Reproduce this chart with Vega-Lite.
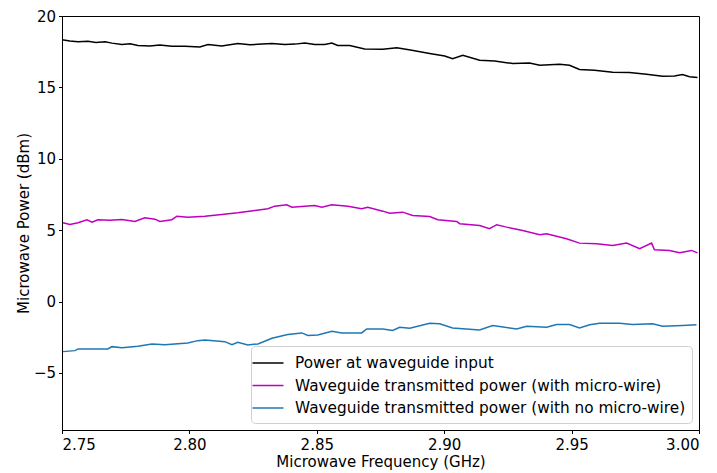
{
  "$schema": "https://vega.github.io/schema/vega-lite/v6.json",
  "autosize": "none",
  "width": 637,
  "height": 414,
  "padding": {"left": 62, "top": 16, "right": 18, "bottom": 43},
  "background": "white",
  "config": {
    "font": "DejaVu Sans",
    "view": {"stroke": "#000", "strokeWidth": 1},
    "axis": {"grid": false, "domainColor": "#000", "tickColor": "#000", "tickSize": 3.5, "labelFontSize": 15, "titleFontSize": 15, "titleFontWeight": "normal", "labelColor": "#000", "titleColor": "#000", "labelFont": "DejaVu Sans", "titleFont": "DejaVu Sans"}
  },
  "data": {"values": [
    {"f": 2.7500, "v": 18.33, "s": "Power at waveguide input"},
    {"f": 2.7531, "v": 18.25, "s": "Power at waveguide input"},
    {"f": 2.7563, "v": 18.20, "s": "Power at waveguide input"},
    {"f": 2.7602, "v": 18.23, "s": "Power at waveguide input"},
    {"f": 2.7633, "v": 18.15, "s": "Power at waveguide input"},
    {"f": 2.7669, "v": 18.20, "s": "Power at waveguide input"},
    {"f": 2.7696, "v": 18.10, "s": "Power at waveguide input"},
    {"f": 2.7735, "v": 18.00, "s": "Power at waveguide input"},
    {"f": 2.7767, "v": 18.05, "s": "Power at waveguide input"},
    {"f": 2.7798, "v": 17.93, "s": "Power at waveguide input"},
    {"f": 2.7845, "v": 17.90, "s": "Power at waveguide input"},
    {"f": 2.7884, "v": 17.96, "s": "Power at waveguide input"},
    {"f": 2.7931, "v": 17.88, "s": "Power at waveguide input"},
    {"f": 2.7982, "v": 17.88, "s": "Power at waveguide input"},
    {"f": 2.8041, "v": 17.83, "s": "Power at waveguide input"},
    {"f": 2.8073, "v": 18.00, "s": "Power at waveguide input"},
    {"f": 2.8127, "v": 17.90, "s": "Power at waveguide input"},
    {"f": 2.8190, "v": 18.07, "s": "Power at waveguide input"},
    {"f": 2.8237, "v": 17.98, "s": "Power at waveguide input"},
    {"f": 2.8284, "v": 18.03, "s": "Power at waveguide input"},
    {"f": 2.8324, "v": 18.07, "s": "Power at waveguide input"},
    {"f": 2.8375, "v": 18.00, "s": "Power at waveguide input"},
    {"f": 2.8414, "v": 18.03, "s": "Power at waveguide input"},
    {"f": 2.8453, "v": 18.11, "s": "Power at waveguide input"},
    {"f": 2.8492, "v": 18.00, "s": "Power at waveguide input"},
    {"f": 2.8531, "v": 18.00, "s": "Power at waveguide input"},
    {"f": 2.8559, "v": 18.10, "s": "Power at waveguide input"},
    {"f": 2.8582, "v": 17.93, "s": "Power at waveguide input"},
    {"f": 2.8629, "v": 17.93, "s": "Power at waveguide input"},
    {"f": 2.8688, "v": 17.69, "s": "Power at waveguide input"},
    {"f": 2.8759, "v": 17.67, "s": "Power at waveguide input"},
    {"f": 2.8814, "v": 17.78, "s": "Power at waveguide input"},
    {"f": 2.8873, "v": 17.60, "s": "Power at waveguide input"},
    {"f": 2.8943, "v": 17.37, "s": "Power at waveguide input"},
    {"f": 2.9002, "v": 17.20, "s": "Power at waveguide input"},
    {"f": 2.9033, "v": 17.00, "s": "Power at waveguide input"},
    {"f": 2.9073, "v": 17.25, "s": "Power at waveguide input"},
    {"f": 2.9139, "v": 16.90, "s": "Power at waveguide input"},
    {"f": 2.9198, "v": 16.85, "s": "Power at waveguide input"},
    {"f": 2.9269, "v": 16.67, "s": "Power at waveguide input"},
    {"f": 2.9335, "v": 16.71, "s": "Power at waveguide input"},
    {"f": 2.9375, "v": 16.55, "s": "Power at waveguide input"},
    {"f": 2.9453, "v": 16.62, "s": "Power at waveguide input"},
    {"f": 2.9492, "v": 16.55, "s": "Power at waveguide input"},
    {"f": 2.9531, "v": 16.25, "s": "Power at waveguide input"},
    {"f": 2.9590, "v": 16.20, "s": "Power at waveguide input"},
    {"f": 2.9661, "v": 16.06, "s": "Power at waveguide input"},
    {"f": 2.9727, "v": 16.05, "s": "Power at waveguide input"},
    {"f": 2.9794, "v": 15.92, "s": "Power at waveguide input"},
    {"f": 2.9857, "v": 15.78, "s": "Power at waveguide input"},
    {"f": 2.9904, "v": 15.80, "s": "Power at waveguide input"},
    {"f": 2.9935, "v": 15.90, "s": "Power at waveguide input"},
    {"f": 2.9963, "v": 15.75, "s": "Power at waveguide input"},
    {"f": 2.9994, "v": 15.69, "s": "Power at waveguide input"},

    {"f": 2.7504, "v": 5.52, "s": "Waveguide transmitted power (with micro-wire)"},
    {"f": 2.7531, "v": 5.40, "s": "Waveguide transmitted power (with micro-wire)"},
    {"f": 2.7563, "v": 5.52, "s": "Waveguide transmitted power (with micro-wire)"},
    {"f": 2.7598, "v": 5.73, "s": "Waveguide transmitted power (with micro-wire)"},
    {"f": 2.7618, "v": 5.56, "s": "Waveguide transmitted power (with micro-wire)"},
    {"f": 2.7641, "v": 5.73, "s": "Waveguide transmitted power (with micro-wire)"},
    {"f": 2.7688, "v": 5.70, "s": "Waveguide transmitted power (with micro-wire)"},
    {"f": 2.7735, "v": 5.75, "s": "Waveguide transmitted power (with micro-wire)"},
    {"f": 2.7786, "v": 5.61, "s": "Waveguide transmitted power (with micro-wire)"},
    {"f": 2.7825, "v": 5.87, "s": "Waveguide transmitted power (with micro-wire)"},
    {"f": 2.7865, "v": 5.77, "s": "Waveguide transmitted power (with micro-wire)"},
    {"f": 2.7884, "v": 5.61, "s": "Waveguide transmitted power (with micro-wire)"},
    {"f": 2.7931, "v": 5.73, "s": "Waveguide transmitted power (with micro-wire)"},
    {"f": 2.7951, "v": 5.98, "s": "Waveguide transmitted power (with micro-wire)"},
    {"f": 2.7994, "v": 5.91, "s": "Waveguide transmitted power (with micro-wire)"},
    {"f": 2.8061, "v": 5.98, "s": "Waveguide transmitted power (with micro-wire)"},
    {"f": 2.8127, "v": 6.10, "s": "Waveguide transmitted power (with micro-wire)"},
    {"f": 2.8190, "v": 6.22, "s": "Waveguide transmitted power (with micro-wire)"},
    {"f": 2.8257, "v": 6.38, "s": "Waveguide transmitted power (with micro-wire)"},
    {"f": 2.8308, "v": 6.50, "s": "Waveguide transmitted power (with micro-wire)"},
    {"f": 2.8335, "v": 6.68, "s": "Waveguide transmitted power (with micro-wire)"},
    {"f": 2.8382, "v": 6.78, "s": "Waveguide transmitted power (with micro-wire)"},
    {"f": 2.8402, "v": 6.61, "s": "Waveguide transmitted power (with micro-wire)"},
    {"f": 2.8492, "v": 6.73, "s": "Waveguide transmitted power (with micro-wire)"},
    {"f": 2.8520, "v": 6.61, "s": "Waveguide transmitted power (with micro-wire)"},
    {"f": 2.8559, "v": 6.78, "s": "Waveguide transmitted power (with micro-wire)"},
    {"f": 2.8622, "v": 6.68, "s": "Waveguide transmitted power (with micro-wire)"},
    {"f": 2.8676, "v": 6.50, "s": "Waveguide transmitted power (with micro-wire)"},
    {"f": 2.8700, "v": 6.61, "s": "Waveguide transmitted power (with micro-wire)"},
    {"f": 2.8759, "v": 6.33, "s": "Waveguide transmitted power (with micro-wire)"},
    {"f": 2.8786, "v": 6.19, "s": "Waveguide transmitted power (with micro-wire)"},
    {"f": 2.8837, "v": 6.26, "s": "Waveguide transmitted power (with micro-wire)"},
    {"f": 2.8876, "v": 6.03, "s": "Waveguide transmitted power (with micro-wire)"},
    {"f": 2.8943, "v": 5.96, "s": "Waveguide transmitted power (with micro-wire)"},
    {"f": 2.8975, "v": 5.73, "s": "Waveguide transmitted power (with micro-wire)"},
    {"f": 2.9049, "v": 5.61, "s": "Waveguide transmitted power (with micro-wire)"},
    {"f": 2.9061, "v": 5.45, "s": "Waveguide transmitted power (with micro-wire)"},
    {"f": 2.9139, "v": 5.33, "s": "Waveguide transmitted power (with micro-wire)"},
    {"f": 2.9178, "v": 5.10, "s": "Waveguide transmitted power (with micro-wire)"},
    {"f": 2.9206, "v": 5.38, "s": "Waveguide transmitted power (with micro-wire)"},
    {"f": 2.9245, "v": 5.21, "s": "Waveguide transmitted power (with micro-wire)"},
    {"f": 2.9308, "v": 4.98, "s": "Waveguide transmitted power (with micro-wire)"},
    {"f": 2.9375, "v": 4.68, "s": "Waveguide transmitted power (with micro-wire)"},
    {"f": 2.9402, "v": 4.75, "s": "Waveguide transmitted power (with micro-wire)"},
    {"f": 2.9480, "v": 4.40, "s": "Waveguide transmitted power (with micro-wire)"},
    {"f": 2.9531, "v": 4.09, "s": "Waveguide transmitted power (with micro-wire)"},
    {"f": 2.9598, "v": 4.05, "s": "Waveguide transmitted power (with micro-wire)"},
    {"f": 2.9661, "v": 3.93, "s": "Waveguide transmitted power (with micro-wire)"},
    {"f": 2.9716, "v": 4.09, "s": "Waveguide transmitted power (with micro-wire)"},
    {"f": 2.9767, "v": 3.70, "s": "Waveguide transmitted power (with micro-wire)"},
    {"f": 2.9814, "v": 4.09, "s": "Waveguide transmitted power (with micro-wire)"},
    {"f": 2.9825, "v": 3.63, "s": "Waveguide transmitted power (with micro-wire)"},
    {"f": 2.9884, "v": 3.58, "s": "Waveguide transmitted power (with micro-wire)"},
    {"f": 2.9924, "v": 3.41, "s": "Waveguide transmitted power (with micro-wire)"},
    {"f": 2.9971, "v": 3.58, "s": "Waveguide transmitted power (with micro-wire)"},
    {"f": 2.9994, "v": 3.41, "s": "Waveguide transmitted power (with micro-wire)"},

    {"f": 2.7504, "v": -3.51, "s": "Waveguide transmitted power (with no micro-wire)"},
    {"f": 2.7551, "v": -3.44, "s": "Waveguide transmitted power (with no micro-wire)"},
    {"f": 2.7563, "v": -3.32, "s": "Waveguide transmitted power (with no micro-wire)"},
    {"f": 2.7680, "v": -3.32, "s": "Waveguide transmitted power (with no micro-wire)"},
    {"f": 2.7696, "v": -3.16, "s": "Waveguide transmitted power (with no micro-wire)"},
    {"f": 2.7735, "v": -3.23, "s": "Waveguide transmitted power (with no micro-wire)"},
    {"f": 2.7798, "v": -3.13, "s": "Waveguide transmitted power (with no micro-wire)"},
    {"f": 2.7853, "v": -2.97, "s": "Waveguide transmitted power (with no micro-wire)"},
    {"f": 2.7904, "v": -3.02, "s": "Waveguide transmitted power (with no micro-wire)"},
    {"f": 2.7994, "v": -2.90, "s": "Waveguide transmitted power (with no micro-wire)"},
    {"f": 2.8033, "v": -2.74, "s": "Waveguide transmitted power (with no micro-wire)"},
    {"f": 2.8061, "v": -2.69, "s": "Waveguide transmitted power (with no micro-wire)"},
    {"f": 2.8139, "v": -2.81, "s": "Waveguide transmitted power (with no micro-wire)"},
    {"f": 2.8167, "v": -3.02, "s": "Waveguide transmitted power (with no micro-wire)"},
    {"f": 2.8190, "v": -2.85, "s": "Waveguide transmitted power (with no micro-wire)"},
    {"f": 2.8229, "v": -3.04, "s": "Waveguide transmitted power (with no micro-wire)"},
    {"f": 2.8269, "v": -2.97, "s": "Waveguide transmitted power (with no micro-wire)"},
    {"f": 2.8324, "v": -2.57, "s": "Waveguide transmitted power (with no micro-wire)"},
    {"f": 2.8386, "v": -2.31, "s": "Waveguide transmitted power (with no micro-wire)"},
    {"f": 2.8441, "v": -2.20, "s": "Waveguide transmitted power (with no micro-wire)"},
    {"f": 2.8465, "v": -2.38, "s": "Waveguide transmitted power (with no micro-wire)"},
    {"f": 2.8504, "v": -2.34, "s": "Waveguide transmitted power (with no micro-wire)"},
    {"f": 2.8559, "v": -2.08, "s": "Waveguide transmitted power (with no micro-wire)"},
    {"f": 2.8598, "v": -2.20, "s": "Waveguide transmitted power (with no micro-wire)"},
    {"f": 2.8676, "v": -2.20, "s": "Waveguide transmitted power (with no micro-wire)"},
    {"f": 2.8696, "v": -1.92, "s": "Waveguide transmitted power (with no micro-wire)"},
    {"f": 2.8759, "v": -1.92, "s": "Waveguide transmitted power (with no micro-wire)"},
    {"f": 2.8798, "v": -2.03, "s": "Waveguide transmitted power (with no micro-wire)"},
    {"f": 2.8825, "v": -1.80, "s": "Waveguide transmitted power (with no micro-wire)"},
    {"f": 2.8865, "v": -1.87, "s": "Waveguide transmitted power (with no micro-wire)"},
    {"f": 2.8943, "v": -1.52, "s": "Waveguide transmitted power (with no micro-wire)"},
    {"f": 2.8982, "v": -1.56, "s": "Waveguide transmitted power (with no micro-wire)"},
    {"f": 2.9033, "v": -1.85, "s": "Waveguide transmitted power (with no micro-wire)"},
    {"f": 2.9139, "v": -1.99, "s": "Waveguide transmitted power (with no micro-wire)"},
    {"f": 2.9190, "v": -1.68, "s": "Waveguide transmitted power (with no micro-wire)"},
    {"f": 2.9284, "v": -1.92, "s": "Waveguide transmitted power (with no micro-wire)"},
    {"f": 2.9324, "v": -1.73, "s": "Waveguide transmitted power (with no micro-wire)"},
    {"f": 2.9402, "v": -1.80, "s": "Waveguide transmitted power (with no micro-wire)"},
    {"f": 2.9441, "v": -1.61, "s": "Waveguide transmitted power (with no micro-wire)"},
    {"f": 2.9492, "v": -1.61, "s": "Waveguide transmitted power (with no micro-wire)"},
    {"f": 2.9531, "v": -1.85, "s": "Waveguide transmitted power (with no micro-wire)"},
    {"f": 2.9571, "v": -1.63, "s": "Waveguide transmitted power (with no micro-wire)"},
    {"f": 2.9610, "v": -1.52, "s": "Waveguide transmitted power (with no micro-wire)"},
    {"f": 2.9688, "v": -1.52, "s": "Waveguide transmitted power (with no micro-wire)"},
    {"f": 2.9739, "v": -1.61, "s": "Waveguide transmitted power (with no micro-wire)"},
    {"f": 2.9818, "v": -1.56, "s": "Waveguide transmitted power (with no micro-wire)"},
    {"f": 2.9857, "v": -1.73, "s": "Waveguide transmitted power (with no micro-wire)"},
    {"f": 2.9935, "v": -1.68, "s": "Waveguide transmitted power (with no micro-wire)"},
    {"f": 2.9990, "v": -1.63, "s": "Waveguide transmitted power (with no micro-wire)"}
  ]},
  "mark": {"type": "line", "strokeWidth": 1.5, "clip": true},
  "encoding": {
    "x": {"field": "f", "type": "quantitative", "title": "Microwave Frequency (GHz)",
      "scale": {"domain": [2.75, 3.0], "nice": false, "zero": false},
      "axis": {"values": [2.75, 2.8, 2.85, 2.9, 2.95, 3.0], "format": ".2f", "labelPadding": 4, "titlePadding": 2}},
    "y": {"field": "v", "type": "quantitative", "title": "Microwave Power (dBm)",
      "scale": {"domain": [-9, 20], "nice": false, "zero": false},
      "axis": {"values": [-5, 0, 5, 10, 15, 20], "labelPadding": 3, "titlePadding": 2}},
    "color": {"field": "s", "type": "nominal", "sort": null,
      "scale": {"domain": ["Power at waveguide input", "Waveguide transmitted power (with micro-wire)", "Waveguide transmitted power (with no micro-wire)"],
                "range": ["#000000", "#bf00bf", "#1f77b4"]},
      "legend": {"title": null, "orient": "bottom-right", "offset": 7, "symbolType": "M-1.55,0L1.55,0", "symbolSize": 400, "symbolStrokeWidth": 1.5, "symbolFillColor": "transparent",
                 "labelFontSize": 15.3, "labelFont": "DejaVu Sans", "labelColor": "#000", "labelOffset": 16, "rowPadding": 2.5,
                 "fillColor": "white", "strokeColor": "#d0d0d0", "cornerRadius": 4, "padding": 6, "labelLimit": 500}},
    "detail": {"field": "s"}
  }
}
